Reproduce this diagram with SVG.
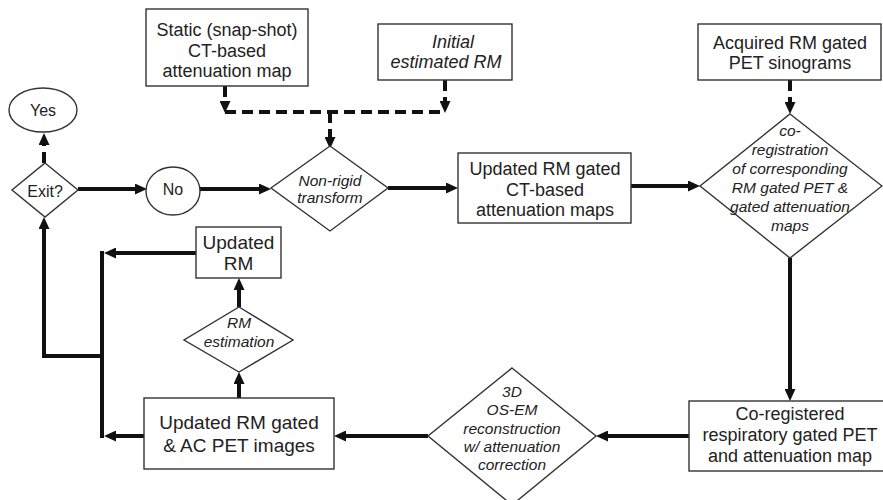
<svg xmlns="http://www.w3.org/2000/svg" width="883" height="500" viewBox="0 0 883 500">
  <defs>
    <marker id="arrow" markerUnits="userSpaceOnUse" markerWidth="12" markerHeight="11" refX="4" refY="5.5" orient="auto">
      <path d="M0,0 L12,5.5 L0,11 z" fill="#111"/>
    </marker>
  </defs>
  <style>
    .box { fill: #fff; stroke: #333; stroke-width: 1.4; }
    .t { font-family: "Liberation Sans", Arial, sans-serif; fill: #222; text-anchor: middle; }
    .b18 { font-size: 18px; }
    .b19 { font-size: 19px; }
    .i18 { font-size: 18px; font-style: italic; }
    .d { font-size: 15.5px; font-style: italic; }
    .s16 { font-size: 16px; }
    .flow { fill: none; stroke: #111; stroke-width: 4; }
    .dash { stroke-dasharray: 11 6; }
  </style>
  <rect width="883" height="500" fill="#fff"/>

  <g id="connectors">
    <!-- dashed inputs -->
    <path class="flow dash" d="M225,86 V105" marker-end="url(#arrow)"/>
    <path class="flow dash" d="M445,80 V105" marker-end="url(#arrow)"/>
    <path class="flow dash" d="M225,112 H445"/>
    <path class="flow dash" d="M330,112 V141" marker-end="url(#arrow)"/>
    <path class="flow dash" d="M790,80 V106" marker-end="url(#arrow)"/>
    <path class="flow dash" d="M44,163 V141" marker-end="url(#arrow)"/>
    <!-- main loop -->
    <path class="flow" d="M78,189 H139" marker-end="url(#arrow)"/>
    <path class="flow" d="M200,189 H263" marker-end="url(#arrow)"/>
    <path class="flow" d="M388,188 H450" marker-end="url(#arrow)"/>
    <path class="flow" d="M631,186 H692" marker-end="url(#arrow)"/>
    <path class="flow" d="M790,258 V393" marker-end="url(#arrow)"/>
    <path class="flow" d="M689,436 H604" marker-end="url(#arrow)"/>
    <path class="flow" d="M428,436 H342" marker-end="url(#arrow)"/>
    <path class="flow" d="M144,436 H112" marker-end="url(#arrow)"/>
    <path class="flow" d="M196,253 H112" marker-end="url(#arrow)"/>
    <path class="flow" d="M102,251 V438"/>
    <path class="flow" d="M102,356 H44 V225" marker-end="url(#arrow)"/>
    <path class="flow" d="M239,398 V380" marker-end="url(#arrow)"/>
    <path class="flow" d="M239,307 V286" marker-end="url(#arrow)"/>
  </g>

  <g id="static-ct">
    <rect class="box" x="146" y="9" width="162" height="77"/>
    <text class="t b18" x="227" y="36">Static (snap-shot)</text>
    <text class="t b18" x="227" y="56.5">CT-based</text>
    <text class="t b18" x="227" y="77">attenuation map</text>
  </g>

  <g id="initial-rm">
    <rect class="box" x="378" y="24" width="134" height="56"/>
    <text class="t i18" x="453" y="48">Initial</text>
    <text class="t i18" x="446" y="68">estimated RM</text>
  </g>

  <g id="acquired-pet">
    <rect class="box" x="698" y="24" width="183" height="56"/>
    <text class="t b18" x="790" y="49">Acquired RM gated</text>
    <text class="t b18" x="790" y="69">PET sinograms</text>
  </g>

  <g id="yes">
    <ellipse class="box" cx="43" cy="110" rx="34" ry="22"/>
    <text class="t s16" x="43" y="115.5">Yes</text>
  </g>

  <g id="exit">
    <polygon class="box" points="45,163 78,190 45,217 12,190"/>
    <text class="t s16" x="45" y="196.5">Exit?</text>
  </g>

  <g id="no">
    <ellipse class="box" cx="173" cy="191" rx="27" ry="24"/>
    <text class="t s16" x="173" y="194.5">No</text>
  </g>

  <g id="non-rigid">
    <polygon class="box" points="330,146 388,188 330,231 271,188"/>
    <text class="t d" x="330" y="186">Non-rigid</text>
    <text class="t d" x="330" y="203">transform</text>
  </g>

  <g id="updated-ct">
    <rect class="box" x="458" y="153" width="173" height="70"/>
    <text class="t b18" x="545" y="175">Updated RM gated</text>
    <text class="t b18" x="545" y="196">CT-based</text>
    <text class="t b18" x="545" y="216">attenuation maps</text>
  </g>

  <g id="co-registration">
    <polygon class="box" points="790,114 882,186 790,258 700,186"/>
    <text class="t d" x="790" y="136">co-</text>
    <text class="t d" x="790" y="155">registration</text>
    <text class="t d" x="790" y="174">of corresponding</text>
    <text class="t d" x="790" y="193">RM gated PET &amp;</text>
    <text class="t d" x="790" y="212">gated attenuation</text>
    <text class="t d" x="790" y="231">maps</text>
  </g>

  <g id="co-registered">
    <rect class="box" x="689" y="401" width="201" height="70"/>
    <text class="t b18" x="790" y="420">Co-registered</text>
    <text class="t b18" x="790" y="441">respiratory gated PET</text>
    <text class="t b18" x="790" y="462">and attenuation map</text>
  </g>

  <g id="reconstruction">
    <polygon class="box" points="512,368 596,436 512,505 428,436"/>
    <text class="t d" x="512" y="397">3D</text>
    <text class="t d" x="512" y="415">OS-EM</text>
    <text class="t d" x="512" y="433.5">reconstruction</text>
    <text class="t d" x="512" y="452">w/ attenuation</text>
    <text class="t d" x="512" y="470">correction</text>
  </g>

  <g id="updated-pet">
    <rect class="box" x="144" y="398" width="190" height="71"/>
    <text class="t b19" x="239" y="429">Updated RM gated</text>
    <text class="t b19" x="239" y="452">&amp; AC PET images</text>
  </g>

  <g id="rm-estimation">
    <polygon class="box" points="239,307 293,340 239,372 184,340"/>
    <text class="t d" x="239" y="328">RM</text>
    <text class="t d" x="239" y="347">estimation</text>
  </g>

  <g id="updated-rm">
    <rect class="box" x="196" y="227" width="85" height="51"/>
    <text class="t b19" x="238.5" y="249">Updated</text>
    <text class="t b19" x="238.5" y="270">RM</text>
  </g>
</svg>
